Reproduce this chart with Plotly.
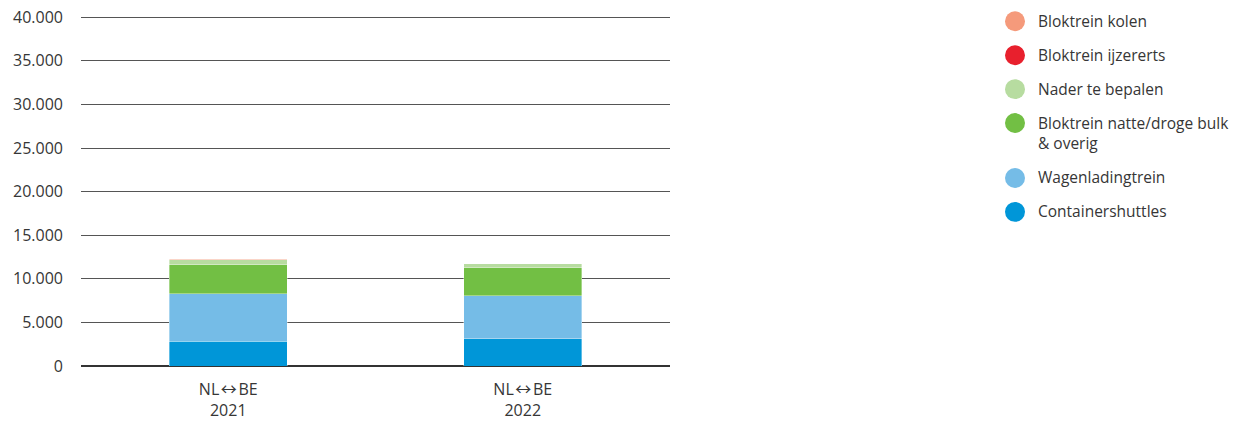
import plotly.graph_objects as go

ARROW = "\u200a<span style='font-family:Noto Sans CJK JP'>\u2194</span>\u200a"
categories = ["NL" + ARROW + "BE<br>2021", "NL" + ARROW + "BE<br>2022"]

series_names = [
    "Containershuttles",
    "Wagenladingtrein",
    "Bloktrein natte/droge bulk<br>& overig",
    "Nader te bepalen",
    "Bloktrein ijzererts",
    "Bloktrein kolen",
]
series_colors = ["#0096D8", "#75BCE7", "#72BF44", "#B7DCA0", "#E8202D", "#F59A7B"]

containershuttles = [2850, 3100]
wagenladingtrein = [5420, 4950]
bulk_overig = [3350, 3200]
nader_te_bepalen = [570, 460]
ijzererts = [0, 0]
kolen = [60, 0]

series_values = [containershuttles, wagenladingtrein, bulk_overig,
                 nader_te_bepalen, ijzererts, kolen]

y_ticks = [0, 5000, 10000, 15000, 20000, 25000, 30000, 35000, 40000]

FONT = "Open Sans"
TXT = "#363636"

# plot-area geometry (pixels)
L, R, T0, B0 = 81, 670, 17, 366.5
PX_PER_UNIT = (B0 - T0) / 40000
Y_TOP = 40150
T = B0 - Y_TOP * PX_PER_UNIT
PW, PH = R - L, B0 - T

fig = go.Figure()
for name, color, vals in zip(series_names, series_colors, series_values):
    fig.add_trace(go.Bar(
        x=categories, y=vals, name=name,
        marker=dict(color=color, line=dict(color="rgba(255,255,255,0.6)", width=0.6)),
        width=0.4, showlegend=False, hoverinfo="skip",
    ))

# manual legend (circle markers), listed top to bottom in reverse stacking order
legend_y = [21, 55, 89, 123, 178, 212]
for (name, color), yy in zip(list(zip(series_names, series_colors))[::-1], legend_y):
    fig.add_shape(type="circle", xref="paper", yref="paper",
                  x0=(1005 - L) / PW, x1=(1025 - L) / PW,
                  y0=(B0 - yy - 10) / PH, y1=(B0 - yy + 10) / PH,
                  fillcolor=color, line=dict(width=0))
    fig.add_annotation(xref="paper", yref="paper",
                       x=(1036 - L) / PW, y=(B0 - yy + 13.5) / PH,
                       xanchor="left", yanchor="top", align="left",
                       text=name, showarrow=False,
                       font=dict(family=FONT, size=15.5, color=TXT))

fig.update_layout(
    barmode="stack",
    width=1242, height=423,
    margin=dict(l=L, r=1242 - R, t=T, b=423 - B0, autoexpand=False),
    paper_bgcolor="white", plot_bgcolor="white",
    separators=",.",
    font=dict(family=FONT, size=16, color=TXT),
    xaxis=dict(showgrid=False, showline=False, ticks="", ticklabelstandoff=12,
               tickfont=dict(family=FONT, size=16, color=TXT)),
    yaxis=dict(range=[0, Y_TOP], tickvals=y_ticks, tickformat=",d",
               showgrid=True, gridcolor="#555555", gridwidth=1,
               zeroline=True, zerolinecolor="#333333", zerolinewidth=1.2,
               showline=False, ticks="", ticklabelstandoff=17,
               tickfont=dict(family=FONT, size=16, color=TXT)),
)

fig.write_html("out.html", config={"displayModeBar": False, "staticPlot": True},
               post_script="document.body.style.margin='0';document.body.style.overflow='hidden';")
